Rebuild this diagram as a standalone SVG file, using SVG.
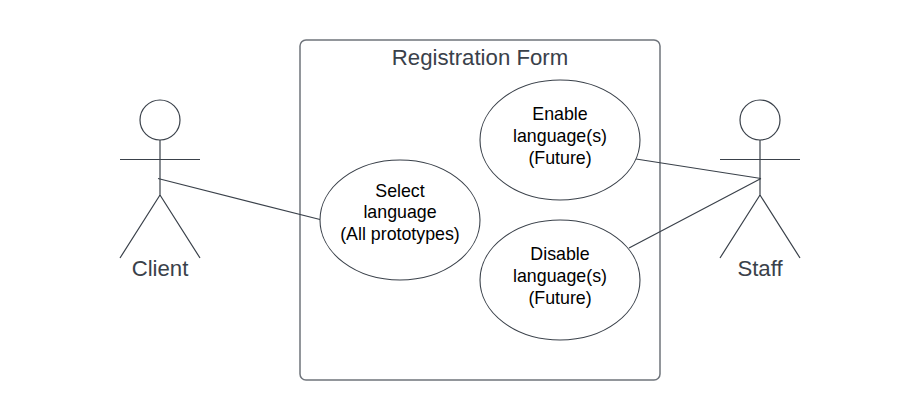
<svg xmlns="http://www.w3.org/2000/svg" width="920" height="420" viewBox="0 0 920 420">
<style>
.s{fill:none;stroke:#3a414a;stroke-width:1.2}
.e{fill:#fff;stroke:#3a414a;stroke-width:1.1}
.t{font-family:"Liberation Sans",Arial,sans-serif;text-anchor:middle}
.u{font-size:17.8px;fill:#000}
.l{font-size:22.2px;fill:#3a414a}
</style>
<rect width="920" height="420" fill="#fff"/>
<g id="system"><rect x="300" y="40" width="360" height="340" rx="6" fill="#fff" stroke="#6f747b" stroke-width="1.5"/>
<text class="t l" x="480" y="65">Registration Form</text></g>
<g id="connectors">
<path class="s" d="M158 178.500L320 219.500M636 159L761 178.500M629 248L761 178.500"/>
</g>
<g id="client">
<circle class="s" cx="160" cy="120" r="20"/>
<path class="s" d="M160 140V195M120 159.500H200M160 195L120 258M160 195L200 258"/>
<text class="t l" x="160" y="275.500">Client</text></g>
<g id="staff">
<circle class="s" cx="760" cy="120" r="20"/>
<path class="s" d="M760 140V195M720 159.500H800M760 195L720 258M760 195L800 258"/>
<text class="t l" x="760" y="275.500">Staff</text></g>
<g id="select"><ellipse class="e" cx="400" cy="220" rx="80" ry="60"/>
<text class="t u" x="400" y="197">Select</text><text class="t u" x="400" y="218">language</text><text class="t u" x="400" y="240">(All prototypes)</text></g>
<g id="enable"><ellipse class="e" cx="560" cy="140" rx="80" ry="60"/>
<text class="t u" x="560" y="120">Enable</text><text class="t u" x="560" y="142">language(s)</text><text class="t u" x="560" y="164">(Future)</text></g>
<g id="disable"><ellipse class="e" cx="560" cy="280" rx="80" ry="60"/>
<text class="t u" x="560" y="260">Disable</text><text class="t u" x="560" y="282">language(s)</text><text class="t u" x="560" y="304">(Future)</text></g>
</svg>
